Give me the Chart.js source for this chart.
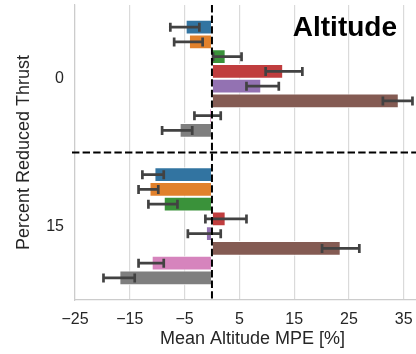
<!DOCTYPE html>
<html>
<head>
<meta charset="utf-8">
<script src="https://cdn.jsdelivr.net/npm/chart.js@4.4.0/dist/chart.umd.min.js"></script>
<style>
  html, body { margin: 0; padding: 0; background: #fff; overflow: hidden; }
  #wrap { width: 416px; height: 354px; overflow: hidden; }
  canvas { display: block; }
</style>
</head>
<body>
<div id="wrap"><canvas id="altitudeChart" width="430" height="354"></canvas></div>
<script>
let thrustLevels = ['0', '15'];
let seriesNames = ['S1', 'S2', 'S3', 'S4', 'S5', 'S6', 'S7', 'S8'];
let seriesColors = ['#3274a1', '#e1812c', '#3a923a', '#c03d3e', '#9372b2', '#845b53', '#d684bd', '#7f7f7f'];

// mean altitude MPE per series, 0% and 15% reduced thrust
let means0 = [-4.8, -4.2, 2.5, 13.0, 9.0, 34.1, -0.5, -5.9];
let means15 = [-10.5, -11.4, -8.8, 2.5, -1.1, 23.5, -11.0, -16.9];

// confidence interval ends
let ciLow0 = [-7.6, -6.9, 0.2, 9.8, 6.3, 31.2, -3.2, -9.1];
let ciHigh0 = [-2.3, -1.7, 5.4, 16.5, 12.2, 36.6, 1.6, -3.6];
let ciLow15 = [-12.7, -13.4, -11.6, -1.2, -4.4, 20.1, -13.4, -19.8];
let ciHigh15 = [-8.8, -9.8, -6.3, 6.3, 1.6, 26.9, -8.8, -14.1];

let xTicks = [-25, -15, -5, 5, 15, 25, 35];

let tickFont = { family: 'Liberation Sans, Arial, sans-serif', size: 16 };
let titleFont = { family: 'Liberation Sans, Arial, sans-serif', size: 18 };

let errorBars = {
  id: 'errorBars',
  afterDatasetsDraw: (chart) => {
    let ctx = chart.ctx;
    let xScale = chart.scales.x;
    ctx.save();
    ctx.strokeStyle = '#424242';
    ctx.lineWidth = 2.7;
    ctx.lineCap = 'butt';
    chart.data.datasets.forEach((ds, i) => {
      let meta = chart.getDatasetMeta(i);
      meta.data.forEach((bar, j) => {
        let lo = xScale.getPixelForValue(ds.ciLow[j]);
        let hi = xScale.getPixelForValue(ds.ciHigh[j]);
        let y = bar.y;
        let cap = 4.5;
        ctx.beginPath();
        ctx.moveTo(lo, y);
        ctx.lineTo(hi, y);
        ctx.moveTo(lo, y - cap);
        ctx.lineTo(lo, y + cap);
        ctx.moveTo(hi, y - cap);
        ctx.lineTo(hi, y + cap);
        ctx.stroke();
      });
    });
    ctx.restore();
  },
};

let refLines = {
  id: 'refLines',
  afterDatasetsDraw: (chart) => {
    let ctx = chart.ctx;
    let area = chart.chartArea;
    let x0 = chart.scales.x.getPixelForValue(0);
    let yMid = chart.scales.y.getPixelForValue(0.5);
    ctx.save();
    ctx.strokeStyle = '#000';
    ctx.lineWidth = 2;
    ctx.setLineDash([7.4, 3.2]);
    ctx.beginPath();
    ctx.moveTo(x0, area.top);
    ctx.lineTo(x0, area.bottom);
    ctx.stroke();
    ctx.beginPath();
    ctx.moveTo(area.left - 3, yMid);
    ctx.lineTo(area.right, yMid);
    ctx.stroke();
    ctx.restore();

    ctx.save();
    ctx.fillStyle = '#000';
    ctx.font = 'bold 28px Liberation Sans, Arial, sans-serif';
    ctx.textAlign = 'right';
    ctx.textBaseline = 'alphabetic';
    ctx.fillText('Altitude', area.right - 33, area.top + 31);
    ctx.restore();
  },
};

let datasets = seriesNames.map((name, i) => {
  return {
    label: name,
    data: [means0[i], means15[i]],
    ciLow: [ciLow0[i], ciLow15[i]],
    ciHigh: [ciHigh0[i], ciHigh15[i]],
    backgroundColor: seriesColors[i],
    borderColor: '#ffffff',
    borderWidth: 1,
    borderSkipped: false,
    categoryPercentage: 0.8,
    barPercentage: 1.0,
  };
});

let ctx = document.getElementById('altitudeChart').getContext('2d');

new Chart(ctx, {
  type: 'bar',
  data: {
    labels: thrustLevels,
    datasets: datasets,
  },
  plugins: [errorBars, refLines],
  options: {
    responsive: false,
    animation: false,
    indexAxis: 'y',
    layout: { padding: { top: 5, right: 0, bottom: 0, left: 0 } },
    plugins: {
      legend: { display: false },
      tooltip: { enabled: false },
      title: { display: false },
    },
    scales: {
      x: {
        min: -25,
        max: 39.8,
        afterBuildTicks: (axis) => {
          axis.ticks = xTicks.map((v) => ({ value: v }));
        },
        afterFit: (axis) => {
          axis.height = 54;
          axis.paddingLeft = 0;
          axis.paddingRight = 0;
        },
        ticks: {
          callback: (v) => (v < 0 ? '\u2212' + Math.abs(v) : String(v)),
          color: '#262626',
          font: tickFont,
          padding: 10,
          maxRotation: 0,
          autoSkip: false,
        },
        grid: { color: '#dadada', lineWidth: 1.2, drawTicks: false },
        border: { display: true, color: '#cccccc', width: 1.2 },
        title: {
          display: true,
          text: 'Mean Altitude MPE [%]',
          color: '#262626',
          font: titleFont,
          padding: { top: 2, bottom: 4 },
        },
      },
      y: {
        afterFit: (axis) => {
          axis.width = 75;
          axis.paddingTop = 0;
          axis.paddingBottom = 0;
        },
        ticks: {
          color: '#262626',
          font: tickFont,
          padding: 11,
        },
        grid: { display: false, drawTicks: false },
        border: { display: true, color: '#cccccc', width: 1.2 },
        title: {
          display: true,
          text: 'Percent Reduced Thrust',
          color: '#262626',
          font: titleFont,
          padding: { top: 13, bottom: 0 },
        },
      },
    },
  },
});
</script>
</body>
</html>
